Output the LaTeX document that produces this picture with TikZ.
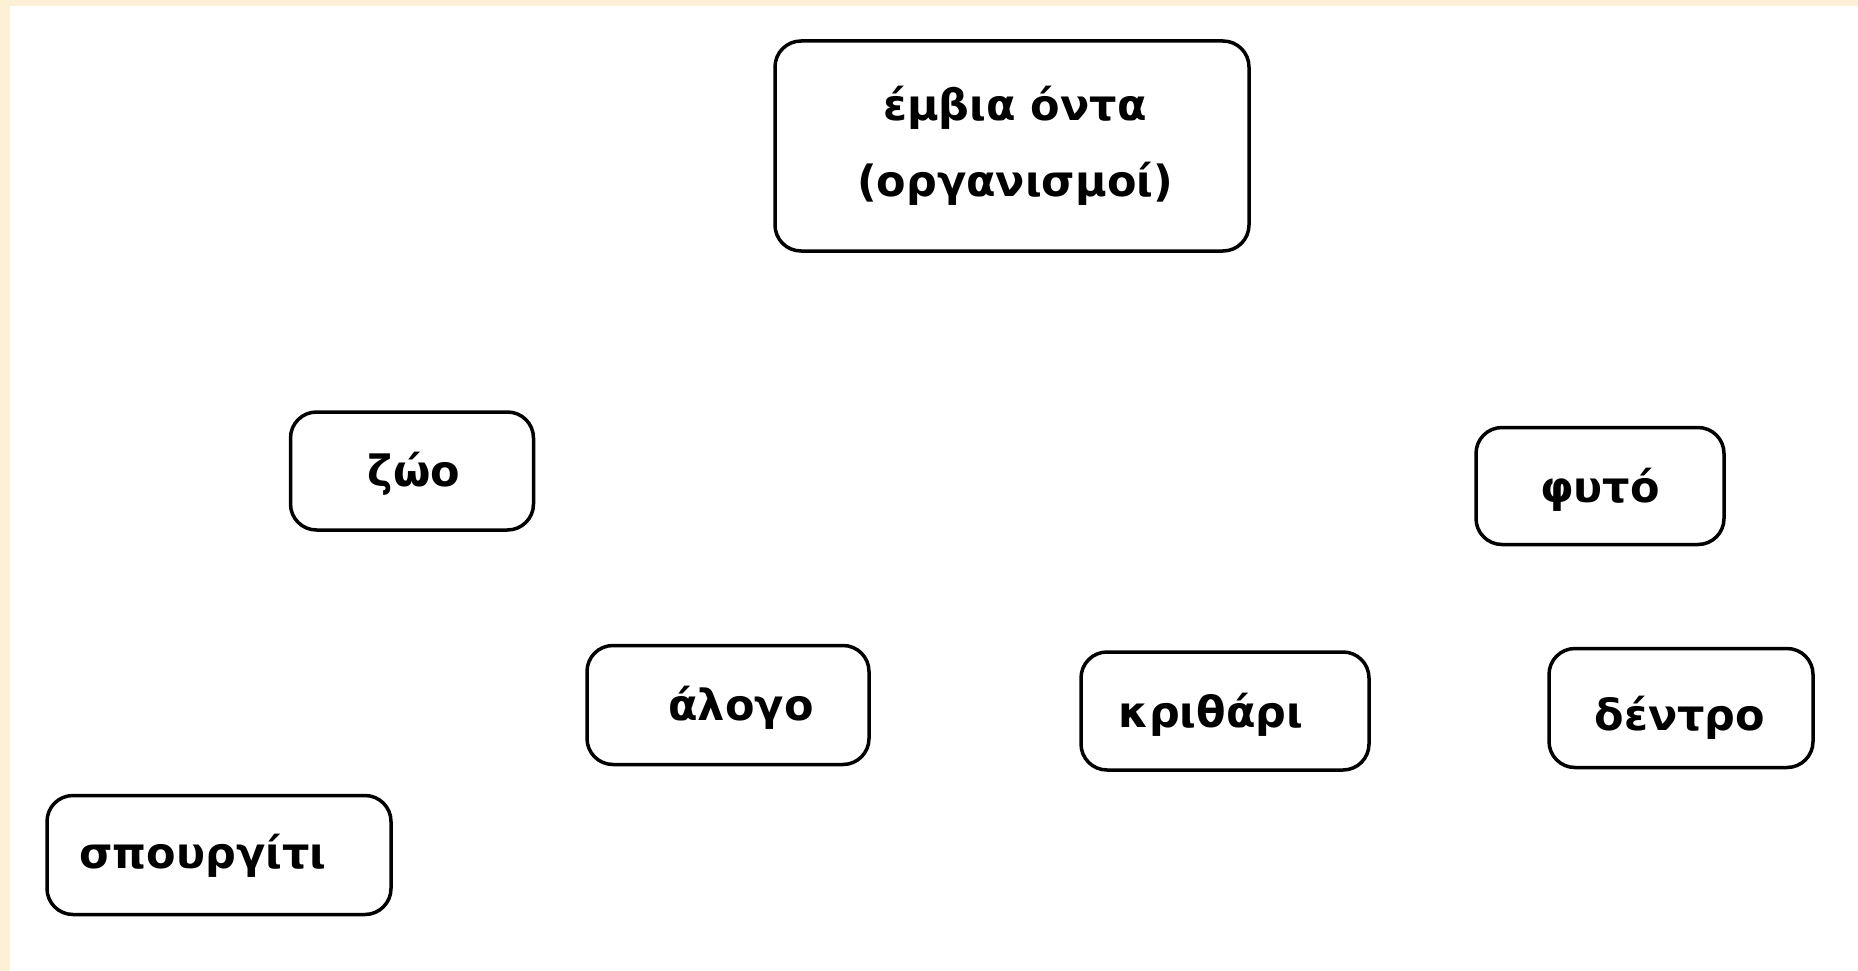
\documentclass[tikz,border=0pt]{standalone}
\usepackage{fontspec}
\setmainfont{DejaVu Sans}
\definecolor{beige}{RGB}{252,240,214}
\begin{document}
\begin{tikzpicture}[x=1pt,y=-1pt,
  box/.style={draw=black,line width=3.5pt,rounded corners=26pt,fill=white,
    inner sep=0pt,align=center,font=\bfseries\fontsize{43}{76}\selectfont},
  txt/.style={inner sep=0pt,font=\bfseries\fontsize{43}{76}\selectfont}]
\fill[white] (0,0) rectangle (1858,971);
\useasboundingbox (0,0) rectangle (1858,971);
\fill[beige] (0,0) rectangle (1858,6);
\fill[beige] (0,0) rectangle (10,971);
\node[box,minimum width=474pt,minimum height=210pt] (root) at (1012,146) {};
\node[txt,align=center] (roott) at (1015,146) {έμβια όντα\\(οργανισμοί)};
\node[box,minimum width=243pt,minimum height=118pt] (zoo) at (412,471) {};
\node[txt] (zoot) at (414,474) {ζώο};
\node[box,minimum width=248pt,minimum height=117pt] (fyto) at (1600,486) {};
\node[txt] (fytot) at (1600,490) {φυτό};
\node[box,minimum width=282pt,minimum height=119pt] (alogo) at (728,705) {};
\node[txt] (alogot) at (741,708) {άλογο};
\node[box,minimum width=288pt,minimum height=118pt] (krith) at (1225,711) {};
\node[txt] (kritht) at (1211,715) {κριθάρι};
\node[box,minimum width=264pt,minimum height=119pt] (dentro) at (1681,708) {};
\node[txt] (dentrot) at (1680,718) {δέντρο};
\node[box,minimum width=344pt,minimum height=119pt] (spour) at (219,855) {};
\node[txt] (spourt) at (203,856) {σπουργίτι};
\end{tikzpicture}
\end{document}
